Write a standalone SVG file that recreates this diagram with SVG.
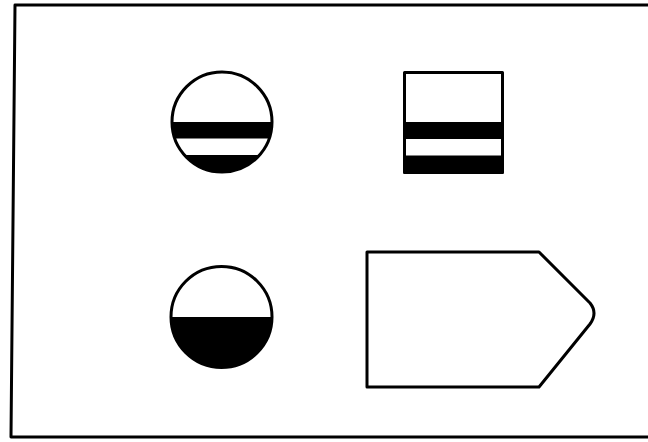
<svg xmlns="http://www.w3.org/2000/svg" width="648" height="442" viewBox="0 0 648 442">
<style>
.o{fill:none;stroke:#000;stroke-width:3;stroke-linejoin:round}
.k{fill:#000;stroke:none}
</style>
<rect width="648" height="442" fill="#fff"/>
<path class="o" d="M650,5 L15,5 L11,437 L650,437"/>
<g id="circle-bands">
<clipPath id="c1"><circle cx="222" cy="122" r="50"/></clipPath>
<g clip-path="url(#c1)">
<rect class="k" x="170" y="122" width="104" height="16.5"/>
<rect class="k" x="170" y="155" width="104" height="20"/>
</g>
<circle class="o" cx="222" cy="122" r="50"/>
</g>
<g id="square-bands">
<rect class="k" x="403.5" y="122" width="100" height="17"/>
<rect class="k" x="403.5" y="155.5" width="100" height="18"/>
<rect class="o" x="404.5" y="72.5" width="98" height="100"/>
</g>
<g id="circle-half">
<path class="k" d="M171,317 A50.5,50.5 0 0 0 272,317 Z"/>
<circle class="o" cx="221.5" cy="317" r="50.5"/>
</g>
<g id="pentagon">
<path class="o" d="M367,252 L539,252 L590,303 Q598,313 590,324 L539,387 L367,387 Z"/>
</g>
</svg>
